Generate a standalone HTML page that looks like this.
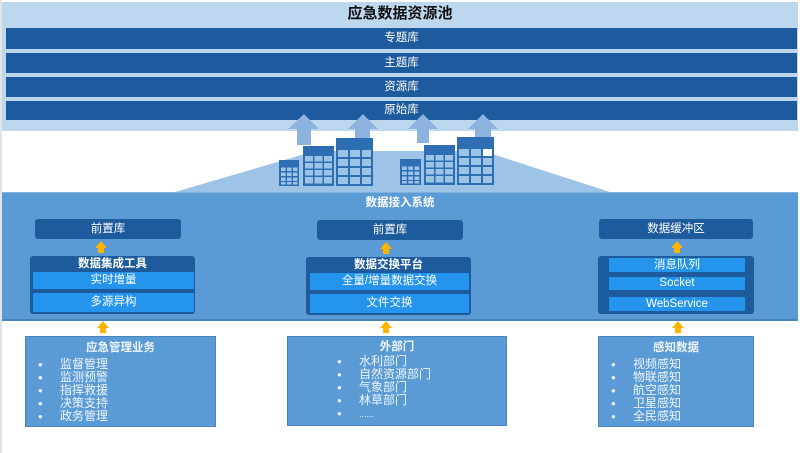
<!DOCTYPE html>
<html><head><meta charset="utf-8">
<style>
*{margin:0;padding:0;box-sizing:border-box}
body{width:800px;height:453px;background:#fff;position:relative;overflow:hidden;font-family:"Liberation Sans","Noto Sans CJK SC",sans-serif}
.a{position:absolute}
.bar{position:absolute;left:6px;width:791px;background:#1d5b9e;color:#fff;font-size:11.5px;text-align:center}
.dk{position:absolute;background:#1d5b9c;border-radius:3px;color:#fff;font-size:11.5px;text-align:center}
.sb{position:absolute;background:#2594ec;color:#fff;font-size:11.5px;text-align:center}
.hd{position:absolute;color:#fff;font-size:11.5px;font-weight:bold;text-align:center}
.bx{position:absolute;background:#5b9bd5;border:1px solid #4a84bd;color:#eef4fb}
.bx .t{position:absolute;left:0;right:0;text-align:center;font-weight:bold;font-size:11.5px}
.li{position:absolute;font-size:12px;line-height:13px;white-space:nowrap}
.dot{position:absolute;font-size:8px;line-height:13px}
</style></head><body>
<div class="a" style="left:0;top:0;width:2px;height:453px;background:#e4e4e4"></div>
<div class="a" style="left:2px;top:2px;width:796px;height:129px;background:#bdd7ee"></div>
<div class="a" style="left:0;top:5px;width:800px;text-align:center;font-size:15px;font-weight:bold;color:#111;line-height:18px">应急数据资源池</div>
<div class="bar" style="top:28px;height:21px;line-height:21px">专题库</div>
<div class="bar" style="top:53px;height:20px;line-height:20px">主题库</div>
<div class="bar" style="top:77px;height:20px;line-height:20px">资源库</div>
<div class="bar" style="top:101px;height:19px;line-height:19px">原始库</div>

<svg class="a" style="left:0;top:0" width="800" height="200" viewBox="0 0 800 200">
<polygon points="175,192 315,151 483,151 610,192" fill="#9dc3e6"/>
<g fill="#8cb2de">
<polygon points="288,129 304,114 319,129"/><rect x="297" y="129" width="14" height="16"/>
<polygon points="348,129 363,114 378,129"/><rect x="355" y="129" width="15" height="9"/>
<polygon points="408,129 423,114 438,129"/><rect x="417" y="129" width="12" height="14"/>
<polygon points="468,129 483,114 498,129"/><rect x="475" y="129" width="16" height="8"/>
</g>
<g id="b">
</g>
<!-- buildings -->
<g>
<rect x="279" y="160" width="20" height="26" fill="#2e6fb3"/>
<rect x="303" y="146" width="31" height="40" fill="#2e6fb3"/>
<rect x="336" y="138" width="37" height="48" fill="#2e6fb3"/>
<rect x="400" y="159" width="21" height="26" fill="#2e6fb3"/>
<rect x="424" y="145" width="31" height="40" fill="#2e6fb3"/>
<rect x="457" y="137" width="37" height="48" fill="#2e6fb3"/>
</g>
<g fill="#9dc3e6">
<!-- small left 3x4 -->
<rect x="281" y="167.5" width="4.6" height="3.5"/><rect x="287" y="167.5" width="4.6" height="3.5"/><rect x="293" y="167.5" width="4.4" height="3.5"/>
<rect x="281" y="172.5" width="4.6" height="3.5"/><rect x="287" y="172.5" width="4.6" height="3.5"/><rect x="293" y="172.5" width="4.4" height="3.5"/>
<rect x="281" y="177.5" width="4.6" height="3.5"/><rect x="287" y="177.5" width="4.6" height="3.5"/><rect x="293" y="177.5" width="4.4" height="3.5"/>
<rect x="281" y="182" width="4.6" height="2.5"/><rect x="287" y="182" width="4.6" height="2.5"/><rect x="293" y="182" width="4.4" height="2.5"/>
<!-- small right -->
<rect x="402" y="166.5" width="4.8" height="3.5"/><rect x="408.3" y="166.5" width="4.8" height="3.5"/><rect x="414.6" y="166.5" width="4.6" height="3.5"/>
<rect x="402" y="171.5" width="4.8" height="3.5"/><rect x="408.3" y="171.5" width="4.8" height="3.5"/><rect x="414.6" y="171.5" width="4.6" height="3.5"/>
<rect x="402" y="176.5" width="4.8" height="3.5"/><rect x="408.3" y="176.5" width="4.8" height="3.5"/><rect x="414.6" y="176.5" width="4.6" height="3.5"/>
<rect x="402" y="181" width="4.8" height="2.5"/><rect x="408.3" y="181" width="4.8" height="2.5"/><rect x="414.6" y="181" width="4.6" height="2.5"/>
<!-- medium left 3x4 -->
<rect x="305" y="156" width="8" height="5.5"/><rect x="314.5" y="156" width="8" height="5.5"/><rect x="324" y="156" width="8" height="5.5"/>
<rect x="305" y="163" width="8" height="5.5"/><rect x="314.5" y="163" width="8" height="5.5"/><rect x="324" y="163" width="8" height="5.5"/>
<rect x="305" y="170" width="8" height="5.5"/><rect x="314.5" y="170" width="8" height="5.5"/><rect x="324" y="170" width="8" height="5.5"/>
<rect x="305" y="177" width="8" height="6.5"/><rect x="314.5" y="177" width="8" height="6.5"/><rect x="324" y="177" width="8" height="6.5"/>
<!-- medium right -->
<rect x="426" y="155" width="8" height="5.5"/><rect x="435.5" y="155" width="8" height="5.5"/><rect x="445" y="155" width="8" height="5.5"/>
<rect x="426" y="162" width="8" height="5.5"/><rect x="435.5" y="162" width="8" height="5.5"/><rect x="445" y="162" width="8" height="5.5"/>
<rect x="426" y="169" width="8" height="5.5"/><rect x="435.5" y="169" width="8" height="5.5"/><rect x="445" y="169" width="8" height="5.5"/>
<rect x="426" y="176" width="8" height="6.5"/><rect x="435.5" y="176" width="8" height="6.5"/><rect x="445" y="176" width="8" height="6.5"/>
<!-- large left 3x4 -->
<rect x="338" y="150" width="10" height="7"/><rect x="350" y="150" width="10" height="7"/><rect x="362" y="150" width="9" height="7"/>
<rect x="338" y="159" width="10" height="7"/><rect x="350" y="159" width="10" height="7"/><rect x="362" y="159" width="9" height="7"/>
<rect x="338" y="168" width="10" height="7"/><rect x="350" y="168" width="10" height="7"/><rect x="362" y="168" width="9" height="7"/>
<rect x="338" y="177" width="10" height="7"/><rect x="350" y="177" width="10" height="7"/><rect x="362" y="177" width="9" height="7"/>
<!-- large right -->
<rect x="459" y="149" width="10" height="7"/><rect x="471" y="149" width="10" height="7"/><rect x="483" y="149" width="9" height="7" fill="#fff"/>
<rect x="459" y="158" width="10" height="7"/><rect x="471" y="158" width="10" height="7"/><rect x="483" y="158" width="9" height="7"/>
<rect x="459" y="167" width="10" height="7"/><rect x="471" y="167" width="10" height="7"/><rect x="483" y="167" width="9" height="7"/>
<rect x="459" y="176" width="10" height="7"/><rect x="471" y="176" width="10" height="7"/><rect x="483" y="176" width="9" height="7"/>
</g>
</svg>

<div class="a" style="left:2px;top:192px;width:796px;height:129px;background:#5b9bd5;border-top:1px solid #7fb0e0;border-bottom:2px solid #4a84bd"></div>
<div class="hd" style="left:0;width:800px;top:195px;line-height:16px">数据接入系统</div>

<!-- left column -->
<div class="dk" style="left:35px;top:219px;width:146px;height:20px;line-height:20px">前置库</div>
<div class="dk" style="left:30px;top:256px;width:165px;height:58px"></div>
<div class="hd" style="left:30px;top:257px;width:165px;line-height:15px">数据集成工具</div>
<div class="sb" style="left:33px;top:272px;width:161px;height:17px;line-height:17px">实时增量</div>
<div class="sb" style="left:33px;top:293px;width:161px;height:19px;line-height:19px">多源异构</div>

<!-- middle column -->
<div class="dk" style="left:317px;top:220px;width:146px;height:20px;line-height:20px">前置库</div>
<div class="dk" style="left:306px;top:257px;width:165px;height:58px"></div>
<div class="hd" style="left:306px;top:258px;width:165px;line-height:15px">数据交换平台</div>
<div class="sb" style="left:310px;top:273px;width:159px;height:17px;line-height:17px">全量/增量数据交换</div>
<div class="sb" style="left:310px;top:294px;width:159px;height:19px;line-height:19px">文件交换</div>

<!-- right column -->
<div class="dk" style="left:599px;top:219px;width:154px;height:20px;line-height:20px">数据缓冲区</div>
<div class="dk" style="left:598px;top:256px;width:156px;height:58px"></div>
<div class="sb" style="left:609px;top:258px;width:136px;height:14px;line-height:14px">消息队列</div>
<div class="sb" style="left:609px;top:277px;width:136px;height:13px;line-height:13px">Socket</div>
<div class="sb" style="left:609px;top:297px;width:136px;height:14px;line-height:14px">WebService</div>

<!-- yellow arrows -->
<svg class="a" style="left:0;top:0" width="800" height="453" viewBox="0 0 800 453">
<g fill="#ffb400">
<polygon points="95,248 101,241 107,248"/><rect x="98" y="247" width="6" height="6"/>
<polygon points="380,249 386,242 392,249"/><rect x="383" y="248" width="6" height="6"/>
<polygon points="671,248 677,241 683,248"/><rect x="674" y="247" width="6" height="6"/>
<polygon points="97,328 103,321 109,328"/><rect x="100" y="327" width="6" height="6"/>
<polygon points="380,328 386,321 392,328"/><rect x="383" y="327" width="6" height="6"/>
<polygon points="672,328 678,321 684,328"/><rect x="675" y="327" width="6" height="6"/>
</g>
</svg>

<!-- bottom boxes -->
<div class="bx" style="left:25px;top:336px;width:191px;height:91px">
<div class="t" style="top:4px;line-height:15px">应急管理业务</div>
</div>
<div class="dot" style="left:38px;top:358px;color:#eef4fb">●</div>
<div class="dot" style="left:38px;top:371px;color:#eef4fb">●</div>
<div class="dot" style="left:38px;top:384px;color:#eef4fb">●</div>
<div class="dot" style="left:38px;top:397px;color:#eef4fb">●</div>
<div class="dot" style="left:38px;top:410px;color:#eef4fb">●</div>
<div class="li" style="left:60px;top:358px;color:#eef4fb">监督管理<br>监测预警<br>指挥救援<br>决策支持<br>政务管理</div>

<div class="bx" style="left:287px;top:336px;width:220px;height:90px">
<div class="t" style="top:3px;line-height:15px">外部门</div>
</div>
<div class="dot" style="left:337px;top:355px;color:#eef4fb">●</div>
<div class="dot" style="left:337px;top:368px;color:#eef4fb">●</div>
<div class="dot" style="left:337px;top:381px;color:#eef4fb">●</div>
<div class="dot" style="left:337px;top:394px;color:#eef4fb">●</div>
<div class="dot" style="left:337px;top:407px;color:#eef4fb">●</div>
<div class="li" style="left:359px;top:355px;color:#eef4fb;line-height:13px">水利部门<br>自然资源部门<br>气象部门<br>林草部门<br><span style="font-size:9px">......</span></div>

<div class="bx" style="left:598px;top:336px;width:156px;height:91px">
<div class="t" style="top:4px;line-height:15px">感知数据</div>
</div>
<div class="dot" style="left:611px;top:358px;color:#eef4fb">●</div>
<div class="dot" style="left:611px;top:371px;color:#eef4fb">●</div>
<div class="dot" style="left:611px;top:384px;color:#eef4fb">●</div>
<div class="dot" style="left:611px;top:397px;color:#eef4fb">●</div>
<div class="dot" style="left:611px;top:410px;color:#eef4fb">●</div>
<div class="li" style="left:633px;top:358px;color:#eef4fb">视频感知<br>物联感知<br>航空感知<br>卫星感知<br>全民感知</div>
</body></html>
